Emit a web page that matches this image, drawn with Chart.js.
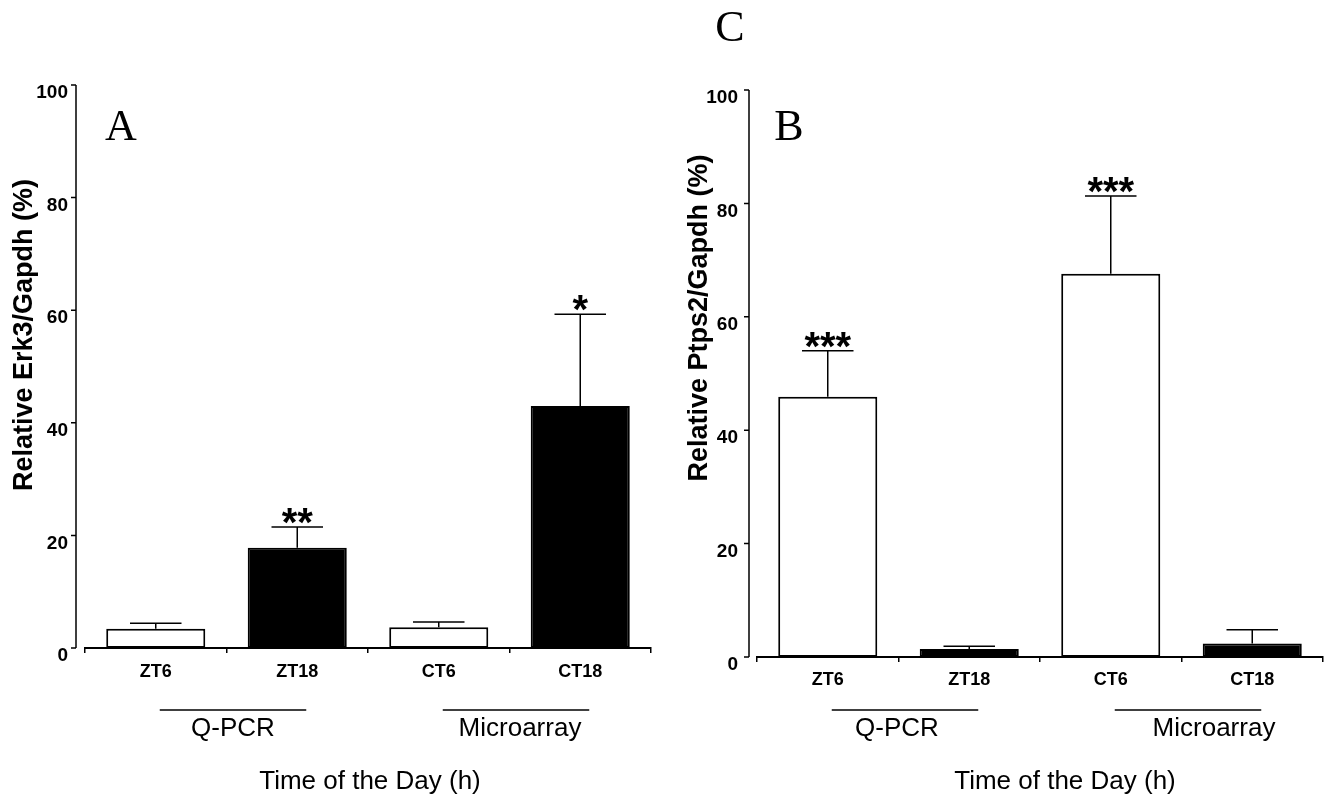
<!DOCTYPE html>
<html lang="en">
<head>
<meta charset="UTF-8">
<title>Erk3 / Ptps2 relative expression</title>
<script src="https://cdn.jsdelivr.net/npm/chart.js"></script>
<style>
  body { margin: 0; background: #fff; }
  #wrap { position: relative; width: 1328px; height: 806px; }
  canvas { position: absolute; top: 0; }
  #erk3Chart { left: 0; }
  #ptps2Chart { left: 664px; }
</style>
</head>
<body>
<div id="wrap">
  <canvas id="erk3Chart" width="664" height="806"></canvas>
  <canvas id="ptps2Chart" width="664" height="806"></canvas>
</div>

<script>
// data
const categories = ['ZT6', 'ZT18', 'CT6', 'CT18'];
const yTicks = [0, 20, 40, 60, 80, 100];
const barColors = ['#ffffff', '#000000', '#ffffff', '#000000'];

const erk3Means  = [3.4, 17.8, 3.7, 43.0];
const erk3Errors = [1.0, 3.7, 0.9, 16.3];
const erk3Stars  = ['', '**', '', '*'];

const ptps2Means  = [45.9, 1.4, 67.6, 2.4];
const ptps2Errors = [8.1, 0.5, 13.7, 2.4];
const ptps2Stars  = ['***', '', '***', ''];

const groups = ['Q-PCR', 'Microarray'];
const groupSpans = [[0, 1], [2, 3]];
const xTitle = 'Time of the Day (h)';

const tickFont = "'Liberation Sans Narrow', 'Liberation Sans', Arial, sans-serif";
const textFont = "'Liberation Sans', Arial, sans-serif";
const serifFont = "'Liberation Serif', 'Times New Roman', serif";

// error bars, stars, detached y axis, group lines and labels
const panelExtras = {
    id: 'panelExtras',
    afterDatasetsDraw(chart, args, o) {
        const ctx = chart.ctx;
        const a = chart.chartArea;
        const x = chart.scales.x, y = chart.scales.y;
        ctx.save();
        ctx.strokeStyle = '#000';
        ctx.fillStyle = '#000';
        ctx.lineWidth = 1.5;

        // Prism style y axis, set off from the x axis
        const ax = a.left - o.axisGap;
        ctx.beginPath();
        ctx.moveTo(ax, y.getPixelForValue(yTicks[0]));
        ctx.lineTo(ax, y.getPixelForValue(yTicks[yTicks.length - 1]));
        yTicks.forEach(v => {
            const p = y.getPixelForValue(v);
            ctx.moveTo(ax - 5, p);
            ctx.lineTo(ax, p);
        });
        ctx.stroke();

        // error bars (upper only) and significance stars
        chart.getDatasetMeta(0).data.forEach((bar, i) => {
            const capY = y.getPixelForValue(o.means[i] + o.errors[i]);
            const half = bar.width * 0.26;
            ctx.beginPath();
            ctx.moveTo(bar.x, bar.y);
            ctx.lineTo(bar.x, capY);
            ctx.moveTo(bar.x - half, capY);
            ctx.lineTo(bar.x + half, capY);
            ctx.stroke();
            if (o.stars[i]) {
                ctx.font = 'bold 40px ' + textFont;
                ctx.textAlign = 'center';
                ctx.textBaseline = 'alphabetic';
                ctx.fillText(o.stars[i], bar.x, capY + 9);
            }
        });

        // group underlines and names
        groupSpans.forEach((span, gi) => {
            const x0 = x.getPixelForValue(span[0]) + 4;
            const x1 = x.getPixelForValue(span[1]) + 9;
            ctx.beginPath();
            ctx.moveTo(x0, o.groupLineY);
            ctx.lineTo(x1, o.groupLineY);
            ctx.stroke();
            ctx.font = '26px ' + textFont;
            ctx.textAlign = 'center';
            ctx.textBaseline = 'middle';
            ctx.fillText(groups[gi], (x0 + x1) / 2 + o.groupShift[gi], o.groupTextY);
        });

        // x title
        ctx.font = '26px ' + textFont;
        ctx.fillText(xTitle, (a.left + a.right) / 2 + o.xTitleShift, o.xTitleY);

        // y title
        ctx.save();
        ctx.translate(o.yTitle[0], o.yTitle[1]);
        ctx.rotate(-Math.PI / 2);
        ctx.font = 'bold 27px ' + textFont;
        ctx.fillText(o.yLabel, 0, 0);
        ctx.restore();

        // panel letters
        ctx.font = '44px ' + serifFont;
        o.letters.forEach(l => ctx.fillText(l.text, a.left + l.dx, a.top + l.dy));
        ctx.restore();
    }
};

function makeChart(id, cfg) {
    return new Chart(document.getElementById(id), {
        type: 'bar',
        data: {
            labels: categories,
            datasets: [{
                data: cfg.means,
                backgroundColor: barColors,
                borderColor: '#000',
                borderWidth: 2,
                borderSkipped: false,
                barPercentage: 0.7,
                categoryPercentage: 1.0
            }]
        },
        options: {
            responsive: false,
            animation: false,
            layout: { padding: { top: cfg.top, right: cfg.right, left: 0, bottom: 0 } },
            plugins: {
                legend: { display: false },
                tooltip: { enabled: false },
                panelExtras: cfg.extras
            },
            scales: {
                x: {
                    grid: { display: true, drawOnChartArea: false, offset: true, tickLength: 5, color: '#000', lineWidth: 1.5 },
                    border: { display: true, color: '#000', width: 2 },
                    ticks: { color: '#000', padding: cfg.xPad, maxRotation: 0, font: { family: tickFont, weight: 'bold', size: 18 } },
                    afterFit: s => { s.height = cfg.xHeight; }
                },
                y: {
                    min: 0,
                    max: 100,
                    grid: { display: false, drawTicks: false },
                    border: { display: false },
                    ticks: { color: '#000', padding: cfg.yPad, labelOffset: 8, font: { family: tickFont, weight: 'bold', size: 19 } },
                    afterBuildTicks: s => { s.ticks = yTicks.map(v => ({ value: v })); },
                    afterFit: s => { s.width = cfg.yWidth; }
                }
            }
        },
        plugins: [panelExtras]
    });
}

makeChart('erk3Chart', {
    means: erk3Means,
    top: 85, right: 13, xHeight: 158, yWidth: 85, xPad: 8, yPad: 17,
    extras: {
        means: erk3Means, errors: erk3Errors, stars: erk3Stars,
        axisGap: 9,
        groupLineY: 710, groupTextY: 729, groupShift: [0, 4],
        xTitleY: 782, xTitleShift: 2,
        yLabel: 'Relative Erk3/Gapdh (%)', yTitle: [25, 335],
        letters: [{ text: 'A', dx: 36, dy: 43 }]
    }
});

makeChart('ptps2Chart', {
    means: ptps2Means,
    top: 90, right: 5, xHeight: 149, yWidth: 93, xPad: 7, yPad: 19,
    extras: {
        means: ptps2Means, errors: ptps2Errors, stars: ptps2Stars,
        axisGap: 8,
        groupLineY: 710, groupTextY: 729, groupShift: [-8, 26],
        xTitleY: 782, xTitleShift: 25,
        yLabel: 'Relative Ptps2/Gapdh (%)', yTitle: [36, 318],
        letters: [{ text: 'B', dx: 32, dy: 38 }, { text: 'C', dx: -27, dy: -61 }]
    }
});
</script>
</body>
</html>
